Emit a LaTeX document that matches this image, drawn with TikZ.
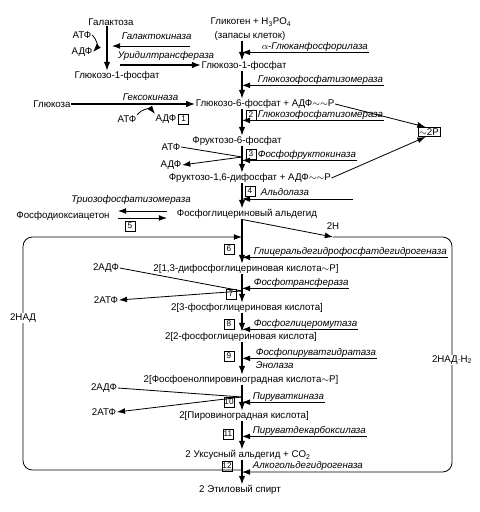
\documentclass[tikz,border=0pt]{standalone}
\usepackage{fontspec}
\setmainfont{Liberation Sans}
\usetikzlibrary{arrows.meta,positioning}

\begin{document}
\begin{tikzpicture}[x=0.3mm, y=-0.3mm,
        met/.style ={inner sep=0.5pt, font=\fontsize{8.3}{9}\selectfont},
        enz/.style ={inner sep=0.5pt, anchor=west, font=\fontsize{8.3}{9}\selectfont\itshape},
        num/.style ={draw, line width=0.7pt, inner sep=0pt, minimum size=8.5pt,
                     font=\fontsize{7}{8}\selectfont},
        arr/.style ={-{Latex[length=7.5pt,width=5.5pt]}, line width=1pt},
        earr/.style={-{Latex[length=7pt,width=5pt]}, line width=0.7pt},
        lin/.style ={line width=0.7pt},
    ]
    \useasboundingbox (0,0) rectangle (479,512);
    \coordinate (ax) at (242,0);

    % Upper part: galactose, glycogen, glucose
    \node[met] (gal)  at (111,22)  {Галактоза};
    \node[met] (glyk) at (251,22)  {Гликоген + H\textsubscript{3}PO\textsubscript{4}};
    \node[met] (zap)  at (250,36)  {(запасы клеток)};
    \node[met] (atfA) at (82,35)   {АТФ};
    \node[met] (adfA) at (82,52)   {АДФ};
    \node[met] (g1pL) at (117,76)  {Глюкозо-1-фосфат};
    \node[met] (g1pR) at (244,66)  {Глюкозо-1-фосфат};
    \node[met] (glk)  at (52,104)  {Глюкоза};
    \node[met, anchor=west] (g6p) at (195,104) {Глюкозо-6-фосфат + АДФ$\sim\sim$P};
    \node[met] (atfB) at (127,119) {АТФ};
    \node[met] (adfB) at (166,119) {АДФ};
    \node[num, right=1pt of adfB] (n1) {1};
    \node[met, draw, line width=0.7pt, inner sep=1pt] (p2) at (429,132) {$\sim$2P};

    \node[enz] (e1) at (121,36)  {Галактокиназа};
    \node[enz] (e2) at (117,56)  {Уридилтрансфераза};
    \node[enz] (e3) at (122,97)  {Гексокиназа};
    \node[enz] (eA) at (261,47)  {$\alpha$-Глюканфосфорилаза};
    \node[enz] (eB) at (257,80)  {Глюкозофосфатизомераза};

    \draw[arr] (gal.south -| 107,0) -- (g1pL.north -| 107,0);
    \draw[earr] (atfA.east) to[bend left=45] (adfA.east);
    \draw[earr] (190,46) -- (112,46);
    \draw[arr] (120,65) -- (g1pR.west |- 0,65);
    \draw[arr] (glk.east) -- (g6p.west);
    \draw[earr] (atfB.north east) to[bend left=55] (adfB.north west);
    \draw[arr] (zap.south -| ax) -- (g1pR.north -| ax);
    \draw[earr] (eA.south east) -- (eA.south -| ax);
    \draw[earr] (eB.south east) -- (eB.south -| ax);

    % Glycolysis
    \node[met] (f6p)  at (237,141) {Фруктозо-6-фосфат};
    \node[met] (atfC) at (171,147) {АТФ};
    \node[met] (adfC) at (171,165) {АДФ};
    \node[met, anchor=west] (fdp) at (168,178) {Фруктозо-1,6-дифосфат + АДФ$\sim\sim$P};
    \node[met] (pda)  at (63,216)  {Фосфодиоксиацетон};
    \node[met] (pga)  at (247,214) {Фосфоглицериновый альдегид};
    \node[met] (h2)   at (333,226) {2H};

    \node[num] (n2) at (251,115) {2};
    \node[num] (n3) at (251,154) {3};
    \node[num] (n4) at (250,191) {4};
    \node[num] (n5) at (130,226) {5};
    \node[enz] (e4) at (257,115) {Глюкозофосфатизомераза};
    \node[enz] (e5) at (257,155) {Фосфофруктокиназа};
    \node[enz] (e6) at (260,192) {Альдолаза};
    \node[met, font=\fontsize{8.3}{9}\selectfont\itshape] (eT) at (131,200) {Триозофосфатизомераза};

    \draw[earr] (e4.south east) -- (e4.south -| ax);
    \draw[earr] (e5.south east) -- (e5.south -| ax);
    \draw[earr] (353,199) -- (ax |- 0,199);
    \coordinate (k3) at (242,157);
    \draw[lin] (atfC.east) -- (k3);
    \draw[earr] (k3) -- (adfC.east);
    \draw[earr] (g6p.east) -- ([xshift=-3pt]p2.north);
    \draw[earr] (fdp.east) -- ([xshift=-3pt]p2.south);
    \draw[earr] (167,211) -- (118,211);
    \draw[earr] (118,218) -- (167,218);

    % Lower part: fermentation
    \node[met] (p13)  at (246,269) {2[1,3-дифосфоглицериновая кислота$\sim$P]};
    \node[met] (p3pg) at (247,308) {2[3-фосфоглицериновая кислота]};
    \node[met] (p2pg) at (241,337) {2[2-фосфоглицериновая кислота]};
    \node[met] (pep)  at (241,380) {2[Фосфоенолпировиноградная кислота$\sim$P]};
    \node[met] (pyr)  at (244,416) {2[Пировиноградная кислота]};
    \node[met] (acet) at (248,455) {2 Уксусный альдегид + CO\textsubscript{2}};
    \node[met] (eth)  at (240,490) {2 Этиловый спирт};

    \node[met] (adfD) at (106,268) {2АДФ};
    \node[met] (atfD) at (106,300) {2АТФ};
    \node[met] (adfE) at (104,388) {2АДФ};
    \node[met] (atfE) at (104,412) {2АТФ};
    \node[met] (nadL) at (23,318)  {2НАД};
    \node[met] (nadR) at (452,360) {2НАД$\cdot$Н\textsubscript{2}};

    \node[num] (n6)  at (229,249) {6};
    \node[num] (n7)  at (231,294) {7};
    \node[num] (n8)  at (229,324) {8};
    \node[num] (n9)  at (229,356) {9};
    \node[num] (n10) at (229,402) {10};
    \node[num] (n11) at (228,434) {11};
    \node[num] (n12) at (227,466) {12};

    \node[enz] (e7)  at (253,252) {Глицеральдегидрофосфатдегидрогеназа};
    \node[enz] (e8)  at (253,283) {Фосфотрансфераза};
    \node[enz] (e9)  at (253,324) {Фосфоглицеромутаза};
    \node[enz] (e10) at (255,353) {Фосфопируватгидратаза};
    \node[enz] (e10b) at (255,365) {Энолаза};
    \node[enz] (e11) at (252,397) {Пируваткиназа};
    \node[enz] (e12) at (252,431) {Пируватдекарбоксилаза};
    \node[enz] (e13) at (252,466) {Алкогольдегидрогеназа};

    \foreach \e in {e7,e8,e9,e10,e11,e12}
        \draw[earr] (\e.south east) -- (\e.south -| ax);

    \coordinate (k7)  at (242,291);
    \coordinate (k10) at (242,397);
    \draw[lin] (adfD.east) -- (k7);
    \draw[earr] (k7) -- (atfD.east);
    \draw[lin] (adfE.east) -- (k10);
    \draw[earr] (k10) -- (atfE.east);

    % Main axis
    \foreach \a/\b in {g1pR/g6p, g6p/f6p, f6p/fdp, fdp/pga, pga/p13, p13/p3pg,
                       p3pg/p2pg, p2pg/pep, pep/pyr, pyr/acet, acet/eth}
        \draw[arr] (\a.south -| ax) -- (\b.north -| ax);

    % NAD loop
    \coordinate (h2end) at (333,237);
    \coordinate (r6)    at (242,237);
    \coordinate (l12)   at (242,470);
    \coordinate (r12)   at (242,472);
    \draw[earr] (pga.south -| ax) -- (h2end);
    \draw[lin, rounded corners=8] (h2end) -| (nadR.north);
    \draw[earr, rounded corners=8] (nadR.south) |- (r12);
    \draw[lin, rounded corners=8] (l12) -| (nadL.south);
    \draw[earr, rounded corners=8] (nadL.north) |- (r6);
\end{tikzpicture}
\end{document}
